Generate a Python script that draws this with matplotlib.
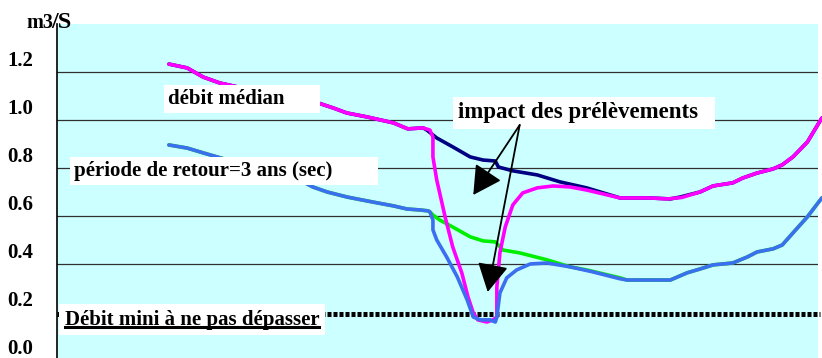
import matplotlib
matplotlib.use("Agg")
import matplotlib.pyplot as plt
from matplotlib.lines import Line2D

plt.rcParams['font.family'] = ['Liberation Serif', 'DejaVu Serif']
plt.rcParams['font.weight'] = 'bold'

# x en unités arbitraires (0-100 sur la largeur du graphe), y en m3/s
x_median_nat = [14.7, 17.1, 19.2, 21.4, 23.7, 29.0, 34.3, 36.3, 38.1, 40.7, 44.2, 46.1,
                48.1, 48.6, 49.9, 52.0, 54.3, 56.0, 57.6, 58.0, 59.9, 63.1, 66.1, 69.6,
                74.0, 77.9, 80.6, 81.9, 84.5, 86.2, 88.8, 90.1, 92.0, 94.1, 95.3, 96.7,
                98.6, 100.5]
y_median_nat = [1.233, 1.217, 1.179, 1.154, 1.138, 1.100, 1.071, 1.050, 1.029, 1.013, 0.988, 0.963,
                0.967, 0.958, 0.925, 0.888, 0.846, 0.833, 0.829, 0.804, 0.788, 0.771, 0.742, 0.717,
                0.675, 0.675, 0.671, 0.679, 0.700, 0.725, 0.738, 0.758, 0.779, 0.796, 0.813, 0.846,
                0.908, 1.008]

x_median_inf = [14.7, 17.1, 19.2, 21.4, 23.7, 29.0, 34.3, 36.3, 38.1, 40.7, 44.2, 46.1,
                48.1, 49.0, 49.4, 49.4, 49.9, 51.0, 52.0, 53.2, 54.0, 54.7, 55.3, 56.5,
                57.3, 57.8, 57.8, 58.2, 58.9, 59.9, 61.2, 63.1, 65.2, 67.4, 69.6, 74.0,
                77.9, 80.2, 82.1, 84.5, 86.2, 88.8, 90.1, 92.0, 94.1, 95.3, 96.7, 98.6, 100.5]
y_median_inf = [1.233, 1.217, 1.179, 1.154, 1.138, 1.100, 1.071, 1.050, 1.029, 1.013, 0.988, 0.963,
                0.967, 0.958, 0.929, 0.846, 0.750, 0.596, 0.471, 0.362, 0.263, 0.196, 0.167, 0.158,
                0.167, 0.179, 0.304, 0.446, 0.554, 0.646, 0.696, 0.717, 0.725, 0.721, 0.708, 0.675,
                0.675, 0.671, 0.677, 0.700, 0.725, 0.738, 0.758, 0.779, 0.796, 0.813, 0.846, 0.908, 1.008]

x_sec_nat = [14.7, 17.1, 19.2, 26.0, 31.9, 33.6, 35.5, 38.1, 41.5, 44.2, 46.0, 47.7,
             48.8, 49.0, 49.4, 50.3, 52.0, 54.3, 56.0, 57.6, 58.6, 60.8, 64.4, 67.4,
             69.6, 74.0, 74.9, 80.6, 82.8, 84.5, 86.2, 88.8, 90.7, 92.0, 94.1, 95.3,
             96.7, 98.6, 100.5]
y_sec_nat = [0.896, 0.883, 0.863, 0.800, 0.750, 0.721, 0.700, 0.679, 0.658, 0.642, 0.629, 0.625,
             0.621, 0.617, 0.604, 0.583, 0.554, 0.513, 0.496, 0.492, 0.458, 0.446, 0.417, 0.388,
             0.375, 0.342, 0.333, 0.333, 0.363, 0.379, 0.396, 0.404, 0.429, 0.450, 0.463, 0.479,
             0.529, 0.596, 0.675]

x_sec_inf = [14.7, 17.1, 19.2, 26.0, 31.9, 33.6, 35.5, 38.1, 41.5, 44.2, 46.0, 47.7,
             48.8, 49.0, 49.4, 49.4, 49.9, 51.2, 52.6, 53.9, 54.7, 55.6, 56.9, 57.6,
             57.8, 58.2, 59.1, 60.4, 62.2, 64.4, 67.4, 70.4, 74.0, 74.9, 80.6, 82.8,
             84.5, 86.2, 88.8, 90.7, 92.0, 94.1, 95.3, 96.7, 98.6, 100.5]
y_sec_inf = [0.896, 0.883, 0.863, 0.800, 0.750, 0.721, 0.700, 0.679, 0.658, 0.642, 0.629, 0.625,
             0.621, 0.617, 0.583, 0.542, 0.500, 0.429, 0.346, 0.250, 0.179, 0.167, 0.167, 0.158,
             0.179, 0.279, 0.342, 0.375, 0.400, 0.404, 0.388, 0.367, 0.338, 0.333, 0.333, 0.363,
             0.379, 0.396, 0.404, 0.429, 0.450, 0.463, 0.479, 0.529, 0.596, 0.675]

debit_mini = 0.19
y_ticks = [0.0, 0.2, 0.4, 0.6, 0.8, 1.0, 1.2]
y_tick_labels = ['0.0', '0.2', '0.4', '0.6', '0.8', '1.0', '1.2']
grid_levels = [0.4, 0.6, 0.8, 1.0, 1.2]

fig = plt.figure(figsize=(8.22, 3.58), dpi=100)
ax = fig.add_axes([57 / 822, 0, 761 / 822, 334 / 358])
ax.set_facecolor('#CCFFFF')
ax.set_xlim(0, 100)
ax.set_ylim(0.008, 1.4)

for s in ['top', 'right', 'bottom']:
    ax.spines[s].set_visible(False)
ax.spines['left'].set_linewidth(1.2)
ax.set_xticks([])
ax.set_yticks([])

for v in grid_levels:
    ax.axhline(v, color='#303030', lw=0.9, zorder=1)
for v, lab in zip(y_ticks, y_tick_labels):
    ax.annotate(lab, xy=(0, v), xycoords=('axes fraction', 'data'),
                xytext=(-24, 11), textcoords='offset pixels',
                ha='right', va='center', fontsize=15, fontweight='bold',
                annotation_clip=False)

ax.plot([0, 100.3], [debit_mini, debit_mini], color='black', lw=3.6,
        linestyle=(0, (0.8, 0.4)), dash_capstyle='butt',
        zorder=2, clip_on=False)

kw = dict(lw=2.6, solid_joinstyle='round', solid_capstyle='round', clip_on=False)
ax.plot(x_median_nat, y_median_nat, color='#000080', zorder=2, **kw)
ax.plot(x_median_inf, y_median_inf, color='#FF00FF', zorder=2.1, **kw)
ax.plot(x_sec_nat, y_sec_nat, color='#00EE00', zorder=2, **kw)
ax.plot(x_sec_inf, y_sec_inf, color='#3C6EF0', zorder=2.1, **kw)

box = dict(facecolor='white', edgecolor='none', pad=3)
ax.text(14.6, 1.087, 'débit médian      ', fontsize=15, fontweight='bold',
        va='center', ha='left', bbox=box, zorder=3)
ax.text(2.2, 0.787, 'période de retour=3 ans (sec)        ', fontsize=15, fontweight='bold',
        va='center', ha='left', bbox=box, zorder=3)
ax.text(52.7, 1.03, 'impact des prélèvements  ', fontsize=16.5, fontweight='bold',
        va='center', ha='left', bbox=dict(facecolor='white', edgecolor='none', pad=4), zorder=3)
mini = ax.text(1.0, 0.167, 'Débit mini à ne pas dépasser', fontsize=15, fontweight='bold',
               va='center', ha='left', bbox=dict(facecolor='white', edgecolor='none', pad=4), zorder=3)

tail = (60.8, 0.979)
for tip in [(54.7, 0.6875), (56.6, 0.283)]:
    ax.annotate('', xy=tip, xytext=tail,
                arrowprops=dict(arrowstyle='-|>,head_length=0.55,head_width=0.3',
                                mutation_scale=32, lw=1.3, color='black',
                                shrinkA=0, shrinkB=0), zorder=4)

fig.text(26 / 822, 1 - 28 / 358, 'm3', fontsize=14.5, fontweight='bold', ha='left', va='baseline')
fig.text(51 / 822, 1 - 28 / 358, '/S', fontsize=17.5, fontweight='bold', ha='left', va='baseline')

# soulignement du texte "Débit mini"
fig.canvas.draw()
bb = mini.get_window_extent()
yl = bb.y0 + 0.15 * bb.height
fig.add_artist(Line2D([bb.x0, bb.x1], [yl, yl], transform=None, color='black', lw=2.2, zorder=5))

fig.savefig('out.png', dpi=100)
